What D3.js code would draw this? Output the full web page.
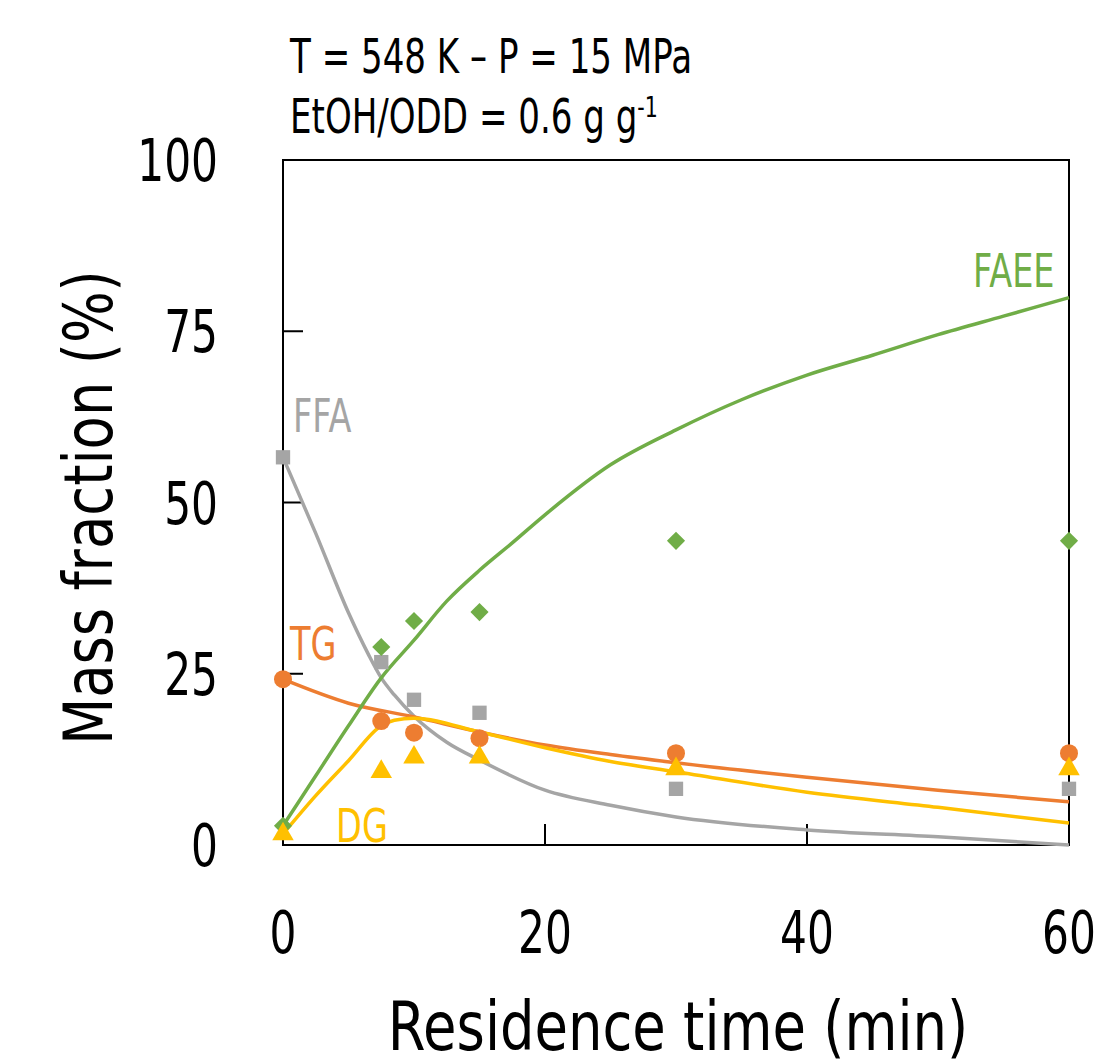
<!DOCTYPE html>
<html>
<head>
<meta charset="utf-8">
<script src="https://cdn.jsdelivr.net/npm/d3@7"></script>
<style>
  body { margin: 0; background: #fff; }
  svg text { font-family: "DejaVu Sans", sans-serif; }
</style>
</head>
<body>
<div id="chart"></div>
<script>
// measured points (residence time in min, mass fraction in %)
var times = [0, 7.5, 10, 15, 30, 60];
var ffaPoints  = [56.6, 26.7, 21.2, 19.3, 8.2, 8.2];
var faeePoints = [2.8, 28.9, 32.7, 34.0, 44.4, 44.4];
var tgPoints   = [24.2, 18.1, 16.4, 15.6, 13.4, 13.4];
var dgPoints   = [1.6, 10.7, 12.8, 12.8, 11.1, 11.1];

// model curves
var faeeCurveT = [0, 2.5, 5, 7.5, 10, 12.5, 15, 17.5, 20, 25, 30, 35, 40, 45, 50, 55, 60];
var faeeCurve  = [2.8, 10.1, 17.4, 24.4, 29.9, 35.6, 40.1, 44.1, 48.2, 55.5, 60.6, 65.0, 68.6, 71.5, 74.5, 77.2, 79.9];
var ffaCurveT  = [0, 2.5, 5, 6.5, 7.5, 8.5, 10, 12.5, 15, 20, 25, 30, 40, 50, 60];
var ffaCurve   = [56.6, 45.5, 33.9, 27.9, 24.4, 21.9, 18.8, 15.0, 12.4, 8.0, 5.8, 4.1, 2.2, 1.2, 0.0];
var tgCurveT   = [0, 5, 10, 15, 20, 25, 30, 40, 50, 60];
var tgCurve    = [24.2, 20.7, 18.7, 16.5, 14.6, 13.2, 12.0, 9.9, 8.0, 6.3];
var dgCurveT   = [0, 2.5, 5, 7.5, 8.5, 10, 15, 20, 25, 30, 40, 50, 60];
var dgCurve    = [1.6, 7.2, 12.3, 17.4, 18.2, 18.5, 16.5, 14.2, 12.2, 10.7, 7.7, 5.5, 3.2];

var xTicks = [0, 20, 40, 60];
var yTicks = [0, 25, 50, 75, 100];

var colors = {ffa: "#a5a5a5", faee: "#70ad47", tg: "#ed7d31", dg: "#ffc000"};

var margin = {top: 160, right: 25, bottom: 218, left: 283},
  width = 1094 - margin.left - margin.right,
  height = 1063 - margin.top - margin.bottom;

var svg = d3.select("#chart")
  .append("svg")
  .attr("width", 1094)
  .attr("height", 1063)
  .append("g")
  .attr("transform", "translate(" + margin.left + "," + margin.top + ")");

var x = d3.scaleLinear().domain([0, 60]).range([0, width]);
var y = d3.scaleLinear().domain([0, 100]).range([height, 0]);

// the original font is narrow, so squeeze text horizontally
function label(g, txt, px, py, size, sx, anchor, rot) {
  return g.append("text")
    .attr("transform", "translate(" + px + "," + py + ")" + (rot ? " rotate(" + rot + ")" : "") + " scale(" + sx + ",1)")
    .attr("font-size", size)
    .attr("text-anchor", anchor || "start")
    .text(txt);
}

// frame
svg.append("rect")
  .attr("width", width)
  .attr("height", height)
  .attr("fill", "none")
  .attr("stroke", "#000")
  .attr("stroke-width", 2);

// inner ticks
svg.selectAll(".ytick")
  .data(yTicks)
  .enter().append("line")
  .attr("x1", 0).attr("x2", 20)
  .attr("y1", d => y(d)).attr("y2", d => y(d))
  .attr("stroke", "#000").attr("stroke-width", 2);

svg.selectAll(".xtick")
  .data(xTicks)
  .enter().append("line")
  .attr("x1", d => x(d)).attr("x2", d => x(d))
  .attr("y1", height).attr("y2", height - 21)
  .attr("stroke", "#000").attr("stroke-width", 2);

// tick labels
yTicks.forEach(d => {
  label(svg, d, -65, y(d) + 21, 58, 0.73, "end");
});
xTicks.forEach(d => {
  label(svg, d, x(d), height + 108, 58, 0.73, "middle");
});

// axis titles
label(svg, "Residence time (min)", width / 2 + 2, height + 205, 68, 0.8, "middle");
label(svg, "Mass fraction (%)", -171, height / 2 + 5, 68, 0.8, "middle", -90);

// header
label(svg, "T = 548 K \u2013 P = 15 MPa", 7, -87, 48, 0.71);
var hdr = label(svg, "EtOH/ODD = 0.6 g g", 7, -27, 48, 0.71);
hdr.append("tspan")
  .attr("dy", -16)
  .attr("font-size", 29)
  .text("-1");

// model curves
var line = d3.line()
  .x(d => x(d[0]))
  .y(d => y(d[1]))
  .curve(d3.curveMonotoneX);

var curves = [
  {key: "ffa", t: ffaCurveT, v: ffaCurve},
  {key: "tg", t: tgCurveT, v: tgCurve},
  {key: "dg", t: dgCurveT, v: dgCurve},
  {key: "faee", t: faeeCurveT, v: faeeCurve}
];

curves.forEach(c => {
  svg.append("path")
    .datum(c.t.map((t, i) => [t, c.v[i]]))
    .attr("d", line)
    .attr("fill", "none")
    .attr("stroke", colors[c.key])
    .attr("stroke-width", 3.5);
});

// markers
function points(vals) { return times.map((t, i) => [t, vals[i]]); }

svg.selectAll(".ffa")
  .data(points(ffaPoints))
  .enter().append("path")
  .attr("d", d3.symbol().type(d3.symbolSquare).size(205))
  .attr("transform", d => "translate(" + x(d[0]) + "," + y(d[1]) + ")")
  .attr("fill", colors.ffa);

svg.selectAll(".faee")
  .data(points(faeePoints))
  .enter().append("path")
  .attr("d", d3.symbol().type(d3.symbolSquare).size(165))
  .attr("transform", d => "translate(" + x(d[0]) + "," + y(d[1]) + ") rotate(45)")
  .attr("fill", colors.faee);

svg.selectAll(".tg")
  .data(points(tgPoints))
  .enter().append("circle")
  .attr("cx", d => x(d[0]))
  .attr("cy", d => y(d[1]))
  .attr("r", 9)
  .attr("fill", colors.tg);

svg.selectAll(".dg")
  .data(points(dgPoints))
  .enter().append("path")
  .attr("d", d3.symbol().type(d3.symbolTriangle).size(200))
  .attr("transform", d => "translate(" + x(d[0]) + "," + y(d[1]) + ")")
  .attr("fill", colors.dg);

// series labels
var labels = [
  {text: "FAEE", key: "faee", t: 52.67, v: 81.5},
  {text: "FFA", key: "ffa", t: 0.76, v: 60.3},
  {text: "TG", key: "tg", t: 0.53, v: 27.0},
  {text: "DG", key: "dg", t: 4.05, v: 0.44}
];

labels.forEach(d => {
  label(svg, d.text, x(d.t), y(d.v), 46.6, 0.72)
    .attr("fill", colors[d.key]);
});
</script>
</body>
</html>
